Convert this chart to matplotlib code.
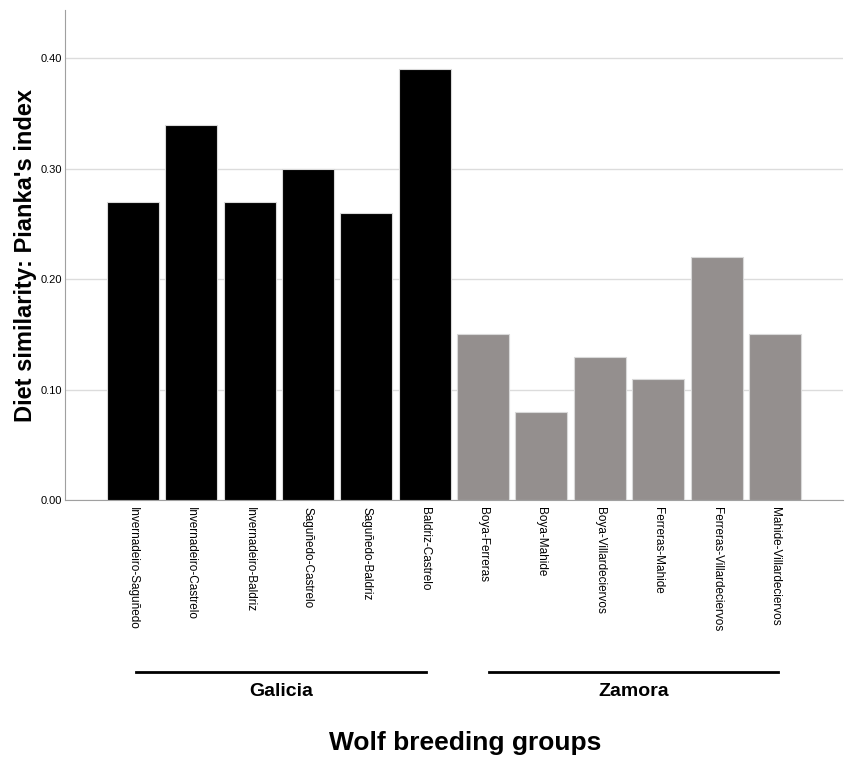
import matplotlib.pyplot as plt
from matplotlib.lines import Line2D
import matplotlib.transforms as mtransforms

plt.rcParams['font.family'] = ['Liberation Sans', 'DejaVu Sans']

pairs = ['Invernadeiro-Saguñedo', 'Invernadeiro-Castrelo', 'Invernadeiro-Baldriz',
         'Saguñedo-Castrelo', 'Saguñedo-Baldriz', 'Baldriz-Castrelo',
         'Boya-Ferreras', 'Boya-Mahide', 'Boya-Villardeciervos',
         'Ferreras-Mahide', 'Ferreras-Villardeciervos', 'Mahide-Villardeciervos']
pianka = [0.27, 0.34, 0.27, 0.30, 0.26, 0.39, 0.15, 0.08, 0.13, 0.11, 0.22, 0.15]
region = ['Galicia'] * 6 + ['Zamora'] * 6
region_colors = {'Galicia': '#000000', 'Zamora': '#948f8e'}

fig = plt.figure(figsize=(8.46, 7.6), dpi=100)
ax = fig.add_axes([0.077, 0.342, 0.919, 0.645])

x = list(range(len(pairs)))
ax.bar(x, pianka, width=0.89, color=[region_colors[r] for r in region],
       edgecolor='#d9d9d9', linewidth=0.8, zorder=3)

ax.set_xlim(-1.16, len(pairs) - 1 + 1.16)
ax.set_ylim(0, 0.444)
ax.set_yticks([0.0, 0.1, 0.2, 0.3, 0.4])
ax.set_yticklabels(['0.00', '0.10', '0.20', '0.30', '0.40'], fontsize=8)
ax.yaxis.grid(True, color='#dcdcdc', linewidth=1, zorder=0)
ax.set_xticks(x)
ax.set_xticklabels(pairs, rotation=270, fontsize=8.5, va='top', ha='center')
ax.tick_params(axis='y', length=0, pad=2)
ax.tick_params(axis='x', length=0, pad=5)

for s in ['top', 'right']:
    ax.spines[s].set_visible(False)
ax.spines['left'].set_color('#a0a0a0')
ax.spines['bottom'].set_color('#a0a0a0')

# y label placed by hand so it sits inside the figure
fig.text(26 / 846, 1 - 256 / 760, "Diet similarity: Pianka's index", rotation=90,
         ha='center', va='center', fontsize=17, fontweight='bold')

# region brackets below tick labels
trans = mtransforms.blended_transform_factory(ax.transData, fig.transFigure)
for name, x0, x1 in [('Galicia', 0.05, 5.02), ('Zamora', 6.11, 11.06)]:
    fig.add_artist(Line2D([x0, x1], [1 - 672 / 760, 1 - 672 / 760], transform=trans,
                          color='black', linewidth=2))
    fig.text((x0 + x1) / 2, 1 - 692 / 760, name, transform=trans, ha='center', va='center',
             fontsize=14, fontweight='bold')

fig.text(0.55, 1 - 743 / 760, 'Wolf breeding groups', ha='center', va='center',
         fontsize=19, fontweight='bold')

fig.savefig('out.png', dpi=100, facecolor='white')
